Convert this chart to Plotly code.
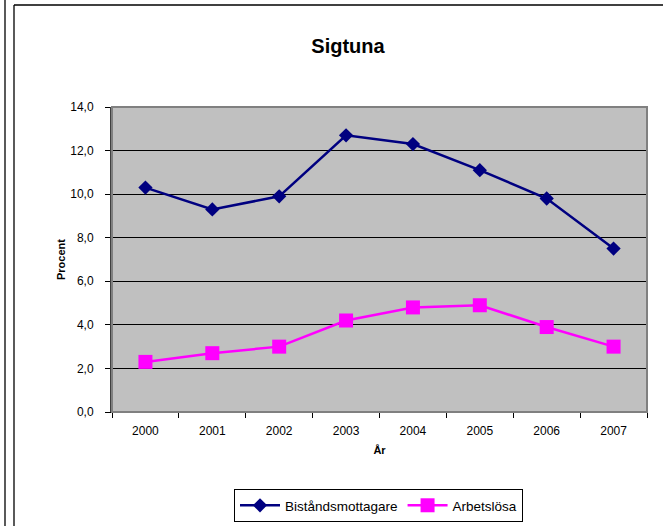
import plotly.graph_objects as go

years = ["2000", "2001", "2002", "2003", "2004", "2005", "2006", "2007"]
bistand = [10.3, 9.3, 9.9, 12.7, 12.3, 11.1, 9.8, 7.5]
arbetslosa = [2.3, 2.7, 3.0, 4.2, 4.8, 4.9, 3.9, 3.0]
y_ticks = [0, 2, 4, 6, 8, 10, 12, 14]

FONT = "Arial, Liberation Sans, sans-serif"
W, H = 663, 526
L, R, T, B = 112, 647, 107, 412


def px(x):
    return (x - L) / (R - L)


def py(y):
    return (B - y) / (B - T)


fig = go.Figure()
fig.add_trace(go.Scatter(
    x=years, y=bistand, name="Biståndsmottagare", mode="lines+markers",
    line=dict(color="#000080", width=2.5),
    marker=dict(symbol="diamond", size=11, color="#000080"),
))
fig.add_trace(go.Scatter(
    x=years, y=arbetslosa, name="Arbetslösa", mode="lines+markers",
    line=dict(color="#FF00FF", width=2.5),
    marker=dict(symbol="square", size=14, color="#FF00FF"),
))

shapes = [
    dict(type="rect", xref="paper", yref="paper", x0=0, x1=1, y0=0, y1=1,
         line=dict(color="#808080", width=2), layer="above"),
    dict(type="line", xref="paper", yref="paper", x0=px(14), x1=px(14), y0=py(5), y1=py(530),
         line=dict(color="black", width=1.3)),
    dict(type="line", xref="paper", yref="paper", x0=px(14), x1=px(670), y0=py(5), y1=py(5),
         line=dict(color="black", width=1.3)),
    dict(type="line", xref="paper", yref="paper", x0=px(5), x1=px(5), y0=py(-5), y1=py(530),
         line=dict(color="black", width=1.3)),
]

fig.update_layout(
    width=W, height=H,
    margin=dict(l=L, r=W - R, t=T, b=H - B, autoexpand=False),
    paper_bgcolor="white",
    plot_bgcolor="#C0C0C0",
    separators=", ",
    font=dict(family=FONT, size=12, color="black"),
    title=dict(text="<b>Sigtuna</b>", font=dict(size=20, family=FONT, color="black"),
               x=348 / W, xref="container", xanchor="center",
               y=1 - 46 / H, yref="container", yanchor="middle"),
    xaxis=dict(
        type="category", categoryorder="array", categoryarray=years,
        showgrid=False, showline=True, linecolor="black", linewidth=1,
        ticks="outside", tickson="boundaries", ticklen=5, tickcolor="black",
        tickfont=dict(size=12), ticklabelstandoff=8,
        title=dict(text="<b>År</b>", font=dict(size=11), standoff=8),
        range=[-0.5, 7.5], fixedrange=True,
    ),
    yaxis=dict(
        range=[0, 14], tickvals=y_ticks, tickformat=".1f",
        showgrid=True, gridcolor="black", gridwidth=1,
        showline=True, linecolor="#404040", linewidth=2,
        ticks="outside", ticklen=5, tickcolor="black",
        tickfont=dict(size=12), ticklabelstandoff=9,
        zeroline=False, fixedrange=True,
        title=dict(text="<b>Procent</b>", font=dict(size=11), standoff=2),
    ),
    legend=dict(
        orientation="h", x=px(378.5), xanchor="center", y=py(489), yanchor="top",
        bordercolor="black", borderwidth=1, bgcolor="white",
        font=dict(size=13.5, family=FONT), itemwidth=40, tracegroupgap=0,
    ),
    showlegend=True,
    shapes=shapes,
)

fig.write_html("out.html", config={"displayModeBar": False, "staticPlot": True},
               post_script="document.body.style.margin='0';document.body.style.padding='0';")
